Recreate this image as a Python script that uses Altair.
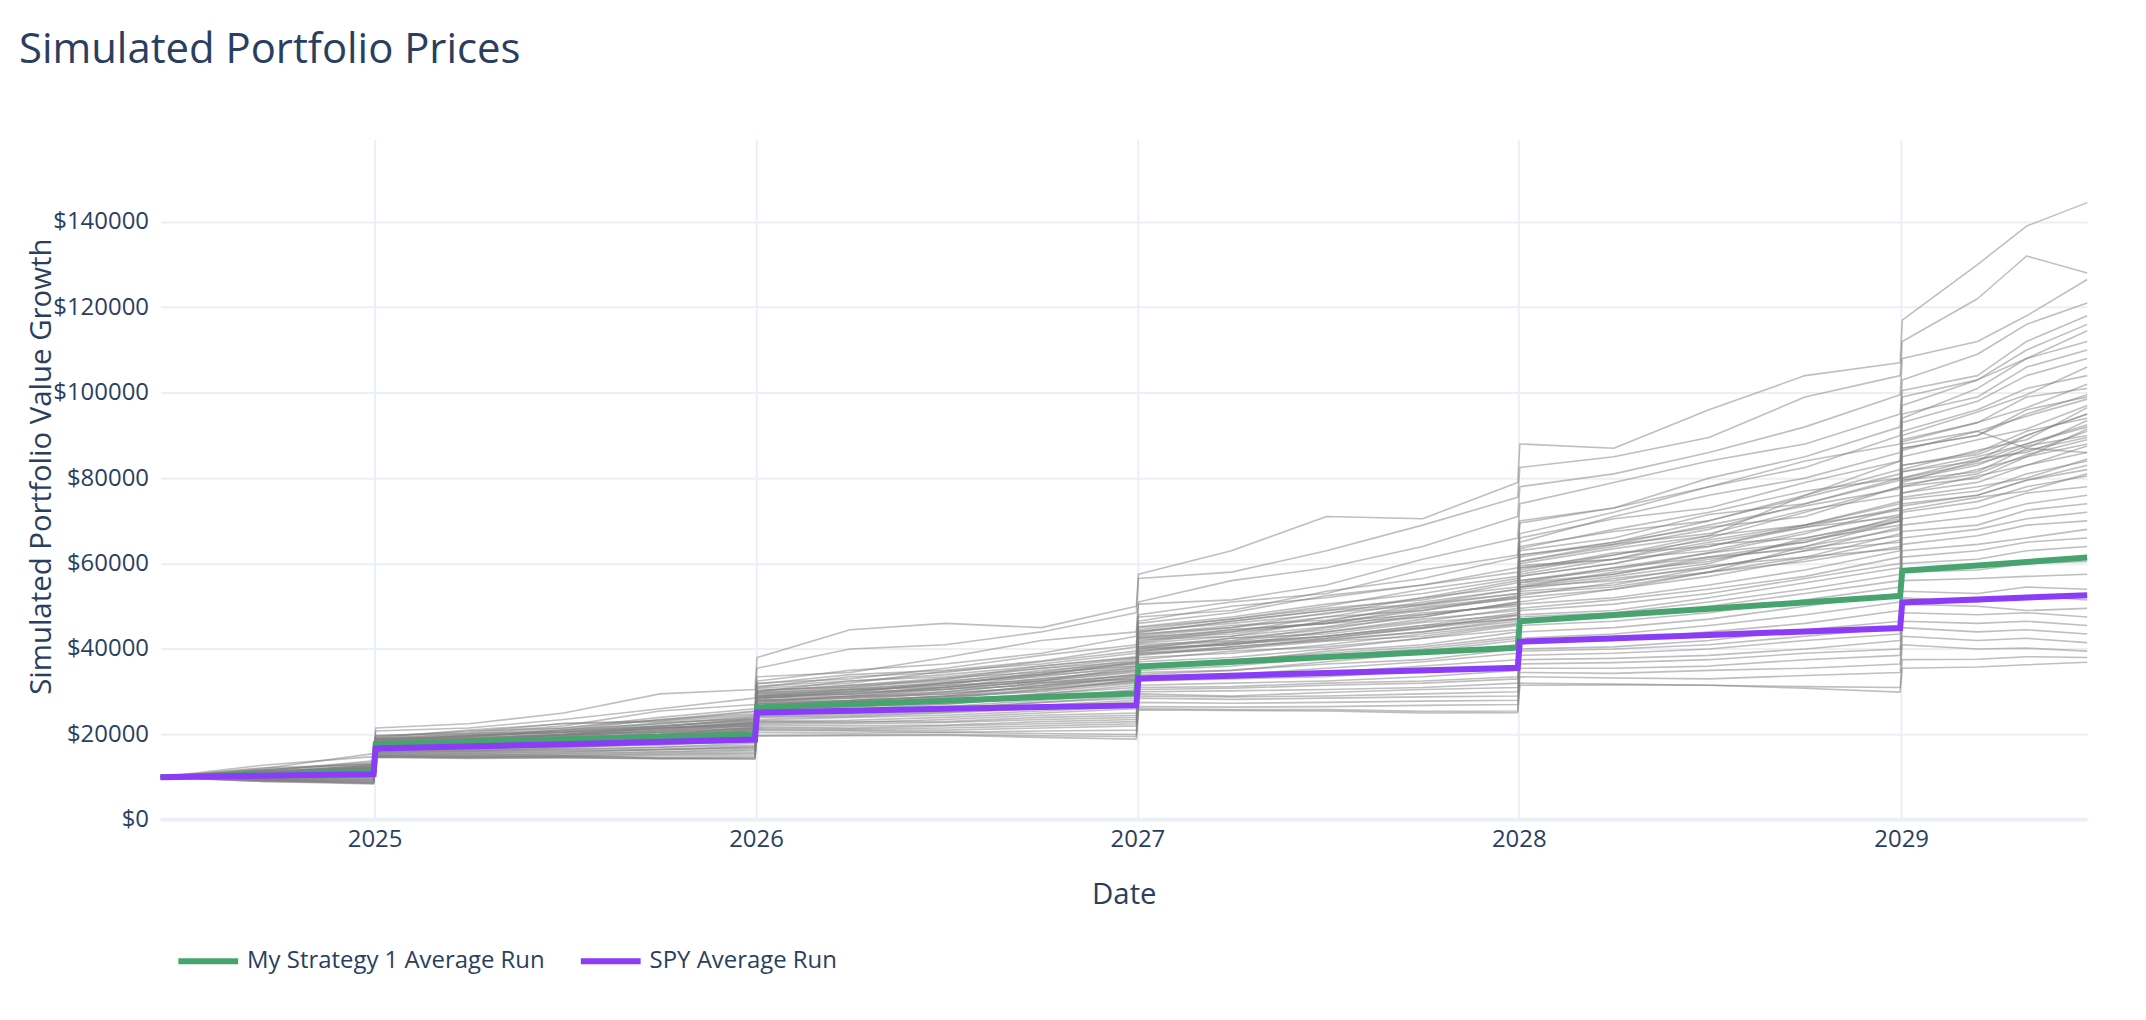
import altair as alt
import pandas as pd

# ---------------- data (values in $1000) ----------------
dates = ["2024-06-10", "2024-09-16", "2024-12-31",
         "2025-01-02", "2025-04-01", "2025-07-01", "2025-10-01", "2025-12-31",
         "2026-01-02", "2026-04-01", "2026-07-01", "2026-10-01", "2026-12-31",
         "2027-01-02", "2027-04-01", "2027-07-01", "2027-10-01", "2027-12-31",
         "2028-01-02", "2028-04-01", "2028-07-01", "2028-10-01", "2028-12-31",
         "2029-01-02", "2029-03-15", "2029-05-01", "2029-06-28"]

avg_dates = ["2024-06-10", "2024-12-31", "2025-01-02", "2025-07-01", "2025-12-31",
             "2026-01-02", "2026-07-01", "2026-12-31", "2027-01-02", "2027-07-01",
             "2027-12-31", "2028-01-02", "2028-07-01", "2028-12-31", "2029-01-02",
             "2029-06-28"]

strategy_avg = [10.0, 11.3, 17.7, 18.9, 20.0, 26.3, 27.9, 29.6, 35.9, 38.1,
                40.3, 46.5, 49.4, 52.4, 58.3, 61.4]
spy_avg = [10.0, 10.7, 16.7, 17.7, 18.8, 25.1, 26.0, 26.8, 33.1, 34.4,
           35.6, 41.7, 43.3, 44.9, 50.9, 52.6]

runs = [
    [10, 12.0, 15.5, 21.5, 22.5, 25.0, 29.5, 30.5, 38.0, 44.5, 46.0, 45.0, 50.0, 57.5, 63.0, 71.0, 70.5, 79.0, 88.0, 87.0, 96.0, 104.0, 107.0, 117.0, 130.0, 139.0, 144.5],
    [10, 12.8, 14.8, 20.8, 21.5, 23.5, 26.0, 28.5, 35.5, 40.0, 41.0, 44.0, 48.5, 56.5, 58.0, 63.0, 69.0, 75.5, 82.5, 85.0, 89.5, 99.0, 104.0, 112.0, 122.0, 132.0, 128.0],
    [10, 11.5, 13.8, 19.8, 20.2, 22.0, 25.5, 27.0, 33.5, 34.5, 38.0, 42.0, 44.0, 51.0, 56.0, 59.0, 64.0, 71.0, 78.0, 81.0, 86.0, 92.0, 99.5, 108.0, 112.0, 118.0, 126.5],
    [10, 11.8, 13.2, 19.5, 20.8, 21.5, 24.0, 26.0, 32.5, 35.0, 36.5, 39.0, 43.0, 50.5, 51.5, 55.0, 61.0, 66.0, 74.0, 79.0, 84.0, 88.0, 95.0, 103.0, 109.0, 116.0, 121.0],
    [10, 11.2, 12.8, 19.0, 19.5, 21.0, 23.5, 25.5, 32.0, 33.0, 35.5, 38.5, 41.0, 48.0, 51.0, 53.0, 58.5, 62.0, 70.0, 73.0, 80.0, 85.0, 92.0, 100.5, 104.0, 112.0, 118.0],
    [10, 12.2, 13.0, 19.2, 21.0, 22.5, 23.0, 24.5, 31.0, 33.5, 34.5, 37.0, 39.5, 46.5, 50.0, 52.0, 55.0, 59.0, 67.0, 72.0, 78.0, 84.0, 88.0, 97.0, 103.0, 108.0, 114.5],
    [10, 11.0, 12.5, 18.8, 19.8, 20.5, 22.5, 24.0, 30.5, 31.0, 33.0, 36.0, 38.0, 45.0, 47.0, 50.0, 54.0, 57.0, 65.0, 71.0, 76.0, 80.0, 86.0, 95.0, 99.0, 106.0, 110.0],
    [10, 11.4, 12.2, 18.5, 19.0, 20.0, 22.0, 23.5, 30.0, 32.5, 33.5, 35.5, 37.0, 44.0, 46.5, 49.0, 52.0, 56.0, 63.5, 68.0, 72.0, 77.0, 80.0, 88.0, 91.0, 87.0, 86.0],
    [10, 10.8, 12.0, 18.2, 19.5, 20.5, 21.5, 23.0, 29.5, 30.0, 32.0, 34.0, 36.5, 43.0, 45.0, 47.5, 51.0, 54.0, 62.0, 65.0, 70.0, 76.0, 82.0, 91.0, 96.0, 101.0, 104.0],
    [10, 11.0, 11.8, 18.0, 18.5, 19.5, 21.5, 22.5, 29.0, 30.5, 31.5, 34.5, 36.0, 42.5, 43.5, 46.5, 50.5, 53.0, 60.5, 64.0, 68.0, 74.0, 80.0, 89.0, 93.0, 99.0, 101.0],
    [10, 10.5, 11.5, 17.8, 18.8, 19.8, 20.5, 22.0, 28.5, 29.0, 31.0, 33.0, 35.0, 41.5, 44.0, 46.0, 49.0, 52.0, 59.0, 61.0, 66.0, 72.0, 78.0, 87.0, 90.0, 96.0, 99.0],
    [10, 11.2, 11.6, 17.6, 18.0, 19.2, 21.0, 22.8, 28.8, 29.5, 30.5, 32.5, 34.5, 41.0, 42.0, 45.0, 47.5, 51.0, 58.0, 62.0, 66.5, 76.0, 84.0, 94.0, 101.0, 108.0, 112.0],
    [10, 10.6, 11.2, 17.5, 18.2, 18.9, 20.5, 21.5, 28.0, 28.5, 30.0, 32.0, 34.0, 40.5, 42.5, 44.5, 48.0, 50.5, 57.0, 60.0, 64.0, 69.0, 74.5, 83.0, 86.0, 91.0, 94.0],
    [10, 10.3, 11.0, 17.2, 17.5, 18.5, 19.8, 21.0, 27.5, 28.5, 29.5, 31.0, 33.5, 40.0, 41.0, 44.0, 46.5, 49.5, 56.0, 59.0, 62.5, 67.0, 73.0, 81.5, 85.0, 88.0, 92.0],
    [10, 11.0, 11.3, 17.4, 18.5, 19.0, 20.0, 21.2, 27.2, 27.8, 29.0, 31.5, 33.0, 39.5, 41.5, 43.0, 45.5, 48.5, 55.5, 57.5, 61.5, 65.0, 71.0, 79.5, 83.0, 87.5, 90.0],
    [10, 10.2, 10.8, 17.0, 17.6, 18.6, 19.5, 20.8, 27.0, 27.5, 28.5, 30.5, 32.5, 39.0, 40.0, 42.5, 45.0, 48.0, 54.5, 57.0, 60.0, 66.0, 70.0, 78.0, 80.0, 85.0, 88.0],
    [10, 10.8, 11.0, 17.1, 17.2, 18.2, 19.8, 20.5, 26.5, 28.0, 28.8, 30.0, 32.0, 38.5, 40.5, 42.0, 44.0, 47.0, 53.5, 55.0, 59.0, 63.0, 68.5, 76.5, 79.0, 83.0, 86.0],
    [10, 10.0, 10.6, 16.8, 17.5, 18.0, 19.0, 20.2, 26.2, 26.8, 28.0, 29.5, 31.5, 38.0, 39.0, 41.0, 43.5, 46.0, 52.5, 55.5, 58.0, 61.5, 67.0, 75.0, 77.0, 81.0, 84.0],
    [10, 10.6, 10.9, 16.9, 17.8, 18.3, 18.8, 20.0, 26.0, 26.5, 27.5, 29.5, 31.0, 37.5, 39.5, 40.5, 42.5, 45.5, 52.0, 54.0, 57.0, 61.0, 65.5, 73.5, 76.0, 79.5, 82.0],
    [10, 10.4, 10.5, 16.6, 17.0, 17.8, 18.5, 19.8, 25.8, 26.5, 27.2, 28.5, 30.5, 37.0, 38.0, 40.0, 42.5, 44.5, 51.0, 54.0, 58.0, 64.0, 70.0, 79.0, 84.0, 90.0, 95.0],
    [10, 10.1, 10.7, 16.7, 17.3, 17.6, 18.8, 19.5, 25.5, 26.0, 27.0, 28.8, 30.0, 36.5, 37.0, 39.5, 41.0, 44.0, 50.5, 52.0, 55.0, 58.5, 63.0, 70.5, 73.0, 76.5, 78.0],
    [10, 10.5, 10.4, 16.5, 16.8, 17.5, 18.0, 19.3, 25.2, 25.5, 26.5, 28.0, 29.5, 36.0, 37.5, 39.0, 40.5, 43.0, 49.5, 51.5, 54.0, 57.0, 61.5, 69.0, 71.0, 74.0, 76.0],
    [10, 9.8, 10.3, 16.4, 16.5, 17.3, 18.2, 19.0, 25.0, 25.0, 26.2, 27.5, 29.0, 35.5, 36.5, 38.5, 40.0, 42.5, 49.0, 50.5, 53.0, 56.5, 60.0, 67.5, 69.0, 72.5, 74.0],
    [10, 10.0, 10.6, 16.6, 16.2, 17.0, 18.0, 18.8, 24.8, 25.5, 26.0, 27.5, 28.5, 35.0, 36.0, 38.0, 39.5, 42.0, 48.0, 49.0, 52.0, 55.5, 59.0, 66.0, 68.0, 70.5, 72.0],
    [10, 10.3, 10.2, 16.3, 16.6, 17.2, 17.5, 18.5, 24.5, 24.8, 25.5, 26.8, 28.0, 34.5, 35.0, 37.0, 39.0, 41.0, 47.5, 48.5, 51.0, 54.0, 57.5, 64.5, 66.5, 69.0, 70.0],
    [10, 9.7, 10.1, 16.2, 16.0, 16.8, 17.8, 18.2, 24.2, 24.5, 25.2, 26.5, 27.5, 34.0, 35.0, 36.5, 37.5, 40.0, 46.5, 47.5, 50.0, 53.0, 56.0, 63.0, 64.5, 66.0, 68.0],
    [10, 10.2, 10.0, 16.0, 16.3, 16.6, 17.0, 18.0, 24.0, 24.2, 25.0, 26.0, 27.0, 33.5, 34.0, 35.5, 37.0, 39.0, 45.5, 46.5, 48.5, 51.5, 54.5, 61.5, 63.0, 65.0, 66.0],
    [10, 9.6, 9.9, 15.9, 15.8, 16.4, 17.0, 17.5, 23.5, 24.0, 24.5, 25.5, 26.5, 33.0, 33.2, 34.5, 36.0, 37.5, 44.0, 45.0, 47.0, 50.0, 53.0, 60.0, 61.0, 63.0, 64.0],
    [10, 10.0, 9.8, 15.8, 16.0, 16.2, 16.5, 17.2, 23.2, 23.3, 24.0, 25.0, 26.0, 32.5, 33.0, 33.5, 35.0, 36.0, 42.5, 43.5, 45.5, 48.0, 51.0, 58.0, 58.5, 60.0, 60.5],
    [10, 9.5, 9.6, 15.6, 15.5, 16.0, 16.4, 17.0, 23.0, 22.8, 23.5, 24.5, 25.0, 31.5, 32.0, 32.5, 33.5, 35.0, 41.5, 42.0, 44.0, 46.0, 49.0, 56.0, 56.5, 57.0, 57.5],
    [10, 9.8, 9.5, 15.5, 15.6, 15.8, 16.5, 16.8, 22.8, 23.0, 23.0, 24.0, 24.5, 31.0, 31.2, 32.0, 32.5, 33.5, 40.0, 40.5, 42.0, 44.5, 46.5, 53.5, 53.0, 54.5, 54.0],
    [10, 9.3, 9.4, 15.4, 15.2, 15.6, 16.0, 16.5, 22.5, 22.5, 22.8, 23.5, 24.0, 30.5, 30.8, 31.5, 32.0, 33.0, 39.5, 40.0, 41.0, 43.0, 45.0, 52.0, 51.0, 52.5, 51.5],
    [10, 9.6, 9.2, 15.2, 15.0, 15.4, 15.8, 16.2, 22.2, 22.0, 22.2, 23.0, 23.5, 30.0, 30.2, 30.5, 31.0, 32.0, 38.5, 39.0, 40.0, 42.0, 43.5, 50.5, 50.0, 49.0, 49.5],
    [10, 9.4, 9.1, 15.1, 15.3, 15.2, 15.5, 15.8, 21.8, 21.5, 22.0, 22.5, 23.0, 29.5, 29.0, 29.8, 30.5, 31.0, 37.5, 37.8, 38.5, 40.0, 42.0, 48.5, 48.0, 48.5, 47.5],
    [10, 9.2, 9.0, 15.0, 14.8, 15.0, 15.3, 15.5, 21.5, 21.3, 21.5, 22.0, 22.5, 29.0, 28.8, 29.0, 29.5, 30.0, 36.5, 36.8, 37.5, 39.0, 40.0, 46.5, 46.0, 46.5, 45.5],
    [10, 9.0, 8.8, 14.9, 14.7, 14.8, 15.0, 15.2, 21.2, 21.0, 21.0, 21.5, 22.0, 28.5, 28.2, 28.5, 28.8, 29.0, 35.5, 35.5, 36.0, 37.5, 38.5, 45.0, 44.0, 44.5, 43.5],
    [10, 9.5, 8.7, 14.8, 14.9, 15.0, 14.6, 14.8, 21.0, 20.8, 20.5, 20.8, 21.0, 27.5, 27.3, 27.5, 27.8, 28.0, 34.5, 34.3, 35.0, 35.5, 36.5, 43.0, 42.0, 42.5, 41.5],
    [10, 9.1, 8.6, 14.7, 14.5, 14.6, 14.4, 14.5, 20.5, 20.3, 20.5, 20.2, 20.0, 26.5, 26.4, 26.5, 26.8, 27.0, 33.5, 33.2, 33.0, 33.8, 34.5, 41.0, 40.0, 40.2, 39.5],
    [10, 9.3, 8.5, 14.7, 14.6, 14.8, 14.4, 14.2, 19.8, 19.9, 20.0, 19.7, 19.5, 26.0, 25.8, 25.8, 25.4, 25.5, 32.0, 31.8, 31.5, 31.2, 31.0, 37.5, 37.6, 38.2, 38.0],
    [10, 9.0, 8.4, 14.6, 14.4, 14.5, 14.3, 14.4, 19.6, 19.7, 19.8, 19.3, 18.9, 25.7, 25.6, 25.5, 25.0, 25.1, 31.5, 31.6, 31.5, 30.8, 29.9, 35.5, 35.8, 36.3, 36.9],
    [10, 11.5, 12.6, 18.8, 19.6, 21.2, 22.5, 24.2, 30.8, 32.0, 34.8, 36.5, 39.0, 46.0, 48.5, 52.5, 55.0, 58.0, 66.0, 70.5, 73.0, 79.0, 84.0, 93.0, 98.0, 104.0, 108.0],
    [10, 10.9, 12.3, 18.5, 19.8, 20.6, 21.8, 23.8, 30.2, 31.5, 32.8, 35.5, 37.8, 44.5, 47.0, 49.5, 51.5, 55.5, 63.0, 66.0, 71.5, 74.0, 79.5, 88.5, 93.0, 96.5, 102.0],
    [10, 11.2, 12.0, 18.2, 19.0, 20.3, 21.4, 22.9, 29.3, 30.8, 31.9, 34.0, 36.8, 43.5, 45.0, 48.5, 50.2, 53.0, 60.5, 64.5, 67.0, 72.5, 76.0, 85.0, 89.0, 91.5, 97.0],
    [10, 10.7, 11.7, 17.9, 18.9, 19.6, 21.0, 22.3, 28.6, 29.4, 31.2, 33.0, 35.2, 41.8, 44.5, 46.0, 49.5, 51.8, 59.0, 62.0, 65.5, 69.0, 74.0, 83.0, 85.5, 90.0, 95.0],
    [10, 11.4, 11.9, 18.1, 18.4, 20.0, 21.6, 22.0, 28.2, 30.0, 30.5, 32.6, 34.8, 41.3, 43.0, 46.5, 48.0, 50.5, 57.5, 61.0, 63.0, 67.5, 71.5, 80.0, 84.5, 86.0, 91.0],
    [10, 10.9, 11.4, 17.6, 18.6, 19.0, 20.0, 21.8, 28.0, 28.8, 30.6, 31.5, 34.0, 40.5, 41.8, 44.0, 47.0, 49.0, 56.0, 58.5, 62.5, 65.0, 70.0, 78.5, 81.0, 85.5, 89.0],
    [10, 11.0, 12.4, 18.6, 19.2, 20.0, 21.5, 22.6, 29.0, 29.5, 31.0, 32.2, 33.8, 40.3, 41.0, 43.0, 45.0, 47.8, 55.0, 57.5, 61.0, 64.0, 68.0, 76.5, 80.5, 83.0, 87.5],
    [10, 10.4, 11.2, 17.4, 17.9, 19.4, 20.1, 21.3, 27.6, 28.9, 29.4, 31.3, 33.5, 40.0, 42.5, 43.5, 46.2, 48.0, 55.5, 59.0, 61.5, 63.5, 66.5, 75.5, 78.0, 80.0, 84.5],
    [10, 11.0, 11.1, 17.2, 17.8, 18.8, 19.5, 21.0, 27.2, 28.0, 29.8, 31.0, 32.6, 39.0, 40.5, 42.2, 44.0, 46.5, 54.0, 56.5, 59.0, 63.0, 65.0, 74.0, 76.0, 79.5, 83.0],
    [10, 10.3, 11.6, 17.7, 18.0, 18.7, 20.4, 21.5, 27.8, 27.9, 29.0, 30.6, 32.2, 38.7, 40.0, 41.8, 43.0, 45.8, 53.0, 54.5, 58.0, 60.5, 64.0, 72.5, 75.5, 77.0, 81.0],
    [10, 11.6, 13.5, 19.6, 20.5, 22.6, 23.2, 25.3, 31.8, 34.0, 35.0, 37.2, 40.5, 47.5, 49.0, 53.5, 56.5, 61.5, 69.5, 73.0, 78.0, 82.5, 90.0, 99.0, 103.0, 110.0, 116.0],
    [10, 10.8, 12.9, 19.0, 20.2, 20.8, 22.8, 23.6, 30.0, 31.5, 33.2, 34.6, 37.5, 44.2, 46.0, 48.2, 52.0, 54.5, 62.0, 64.5, 69.0, 73.5, 77.5, 86.5, 91.0, 94.5, 98.5],
    [10, 10.6, 12.1, 18.3, 18.6, 20.0, 21.2, 22.6, 29.0, 29.8, 32.0, 33.5, 36.0, 42.8, 44.0, 47.5, 49.0, 52.5, 60.0, 63.5, 66.5, 69.0, 72.5, 81.5, 84.0, 88.0, 92.5],
    [10, 11.3, 11.8, 18.0, 19.2, 19.9, 20.6, 22.4, 28.8, 30.5, 31.0, 33.8, 35.5, 42.2, 43.0, 45.2, 48.5, 50.0, 57.0, 60.0, 64.5, 66.0, 70.5, 79.5, 81.5, 87.0, 93.5],
    [10, 10.2, 11.0, 17.2, 17.6, 18.5, 19.8, 20.9, 27.2, 27.8, 28.9, 30.2, 32.8, 39.3, 41.2, 42.5, 44.8, 47.2, 54.5, 58.0, 60.5, 65.5, 69.0, 78.0, 82.0, 85.0, 91.5],
    [10, 10.9, 12.7, 18.9, 19.3, 21.0, 21.9, 23.4, 29.8, 30.5, 32.2, 35.0, 36.6, 43.3, 45.5, 46.8, 49.8, 52.2, 59.5, 61.0, 65.0, 68.5, 71.0, 80.0, 83.5, 86.5, 89.5],
    [10, 11.1, 12.2, 18.4, 19.7, 20.5, 22.0, 23.2, 29.6, 31.2, 32.5, 34.2, 37.0, 43.8, 46.5, 49.0, 50.5, 54.0, 61.5, 65.0, 68.5, 71.0, 78.0, 87.0, 90.0, 95.0, 99.5],
    [10, 10.5, 11.3, 17.5, 18.2, 19.3, 20.0, 21.6, 27.9, 29.0, 30.0, 32.0, 33.0, 39.6, 41.5, 43.0, 45.5, 47.0, 54.5, 56.0, 59.5, 61.5, 63.5, 72.0, 74.5, 78.0, 80.5],
    [10, 10.8, 11.9, 18.1, 18.6, 19.8, 20.8, 22.1, 28.4, 30.2, 31.5, 32.5, 35.8, 42.5, 44.5, 46.0, 47.5, 51.0, 58.5, 62.5, 64.0, 68.5, 73.0, 82.0, 86.5, 89.0, 96.5],
    [10, 11.7, 13.0, 19.2, 20.0, 21.5, 23.4, 24.8, 31.3, 32.5, 34.0, 36.0, 38.2, 45.2, 47.5, 50.5, 53.0, 56.5, 64.0, 67.5, 70.0, 75.5, 81.0, 90.0, 95.5, 99.5, 106.0],
]

series_names = ["My Strategy 1 Average Run", "SPY Average Run"]
series_colors = ["#47A46F", "#8A3CF7"]
y_ticks = [0, 20000, 40000, 60000, 80000, 100000, 120000, 140000]
x_years = [2025, 2026, 2027, 2028, 2029]

# ---------------- frames ----------------
dts = pd.to_datetime(dates)
run_rows = []
for i, run in enumerate(runs):
    for d, v in zip(dts, run):
        run_rows.append({"run": i, "date": d, "value": v * 1000})
runs_df = pd.DataFrame(run_rows)

adts = pd.to_datetime(avg_dates)
avg_rows = []
for name, vals in zip(series_names, [strategy_avg, spy_avg]):
    for d, v in zip(adts, vals):
        avg_rows.append({"series": name, "date": d, "value": v * 1000})
avg_df = pd.DataFrame(avg_rows)

TEXT = "#2a3f5f"
GRID = "#EBF0F8"
FONT = "Open Sans"

x_enc = alt.X(
    "date:T",
    scale=alt.Scale(domain=[alt.DateTime(year=2024, month=6, date=10),
                            alt.DateTime(year=2029, month=6, date=28)]),
    axis=alt.Axis(
        values=[alt.DateTime(year=y, month=1, date=1) for y in x_years],
        format="%Y", title="Date", grid=True, gridColor=GRID, gridWidth=2,
        domain=False, ticks=False, tickSize=0, labelPadding=8,
        labelFontSize=24, labelColor=TEXT, labelFont=FONT,
        titleFontSize=29.5, titleFontWeight="normal", titleColor=TEXT, titleFont=FONT,
        titleBaseline="alphabetic", titleY=84,
    ),
)
y_enc = alt.Y(
    "value:Q",
    scale=alt.Scale(domain=[0, 159300], nice=False, zero=True),
    axis=alt.Axis(
        values=y_ticks, labelExpr="'$' + datum.value",
        title="Simulated Portfolio Value Growth", grid=True, gridColor=GRID, gridWidth=2,
        domain=False, ticks=False, tickSize=0, labelPadding=12,
        labelFontSize=24, labelColor=TEXT, labelFont=FONT,
        titleFontSize=29.5, titleFontWeight="normal", titleColor=TEXT, titleFont=FONT,
        titleAngle=270, titleAlign="center", titleBaseline="middle",
        titleX=-119, titleY=328,
    ),
)

zero = alt.Chart(pd.DataFrame({"value": [0]})).mark_rule(
    color=GRID, strokeWidth=4
).encode(y=y_enc)

gray = alt.Chart(runs_df).mark_line(
    stroke="#808080", strokeWidth=1.6, opacity=0.5, strokeJoin="round"
).encode(x=x_enc, y=y_enc, detail="run:N")

color_enc = alt.Color(
    "series:N",
    scale=alt.Scale(domain=series_names, range=series_colors),
    legend=alt.Legend(
        title=None, orient="none", legendX=15, legendY=792, direction="horizontal",
        symbolType="stroke", symbolSize=3600, symbolStrokeWidth=6,
        labelFontSize=24, labelFont=FONT, labelColor=TEXT, labelOffset=6,
        labelLimit=0, columnPadding=24,
    ),
)

green = alt.Chart(avg_df).transform_filter(
    alt.datum.series == series_names[0]
).mark_line(strokeWidth=6).encode(x=x_enc, y=y_enc, color=color_enc)

purple = alt.Chart(avg_df).transform_filter(
    alt.datum.series == series_names[1]
).mark_line(strokeWidth=6).encode(x=x_enc, y=y_enc, color=color_enc)

chart = alt.layer(zero, gray, green, purple).properties(
    width=1934, height=683,
    background="white",
    autosize=alt.AutoSizeParams(type="none"),
    padding={"left": 153, "top": 130, "right": 51, "bottom": 199},
    title=alt.TitleParams(
        "Simulated Portfolio Prices", anchor="start", frame="group", orient="top",
        offset=0, baseline="alphabetic", dx=-142, dy=-35,
        fontSize=42, font=FONT, fontWeight="normal", color=TEXT,
    ),
).configure_view(strokeWidth=0)

chart.save("out.html", embed_options={"renderer": "svg", "actions": False})
